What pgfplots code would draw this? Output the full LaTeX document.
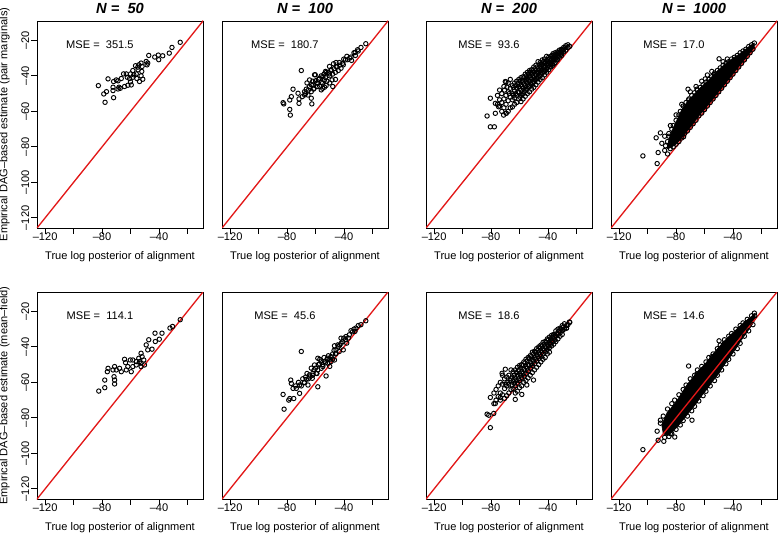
\documentclass[border=0pt]{standalone}
\usepackage{fontspec}
\setmainfont{Liberation Sans}
\usepackage{pgfplots}
\pgfplotsset{compat=1.18}
\definecolor{rred}{RGB}{226,24,24}
\pgfplotsset{
  panel/.style={
    scale only axis, width=124.5pt, height=155.25pt,
    anchor=north west,
    xmin=-125.7,xmax=-9.1,ymin=-125.7,ymax=-9.1,
    axis line style={line width=0.7pt},
    tick align=outside, xtick pos=left, ytick pos=left,
    major tick length=4.3pt, minor tick length=4.3pt,
    every tick/.style={black,line width=0.6pt},
    xtick={-120,-80,-40}, minor xtick={-100,-60,-20},
    xticklabels={\textendash120,\textendash80,\textendash40},
    ytick=\empty,
    xticklabel style={anchor=center, yshift=-2.25pt},
    xlabel={True log posterior of alignment},
    xlabel style={at={(axis description cs:0.5,-0.1401)}, anchor=center},
    title style={at={(axis description cs:0.5,1.0628)}, anchor=center, yshift=-6pt, font=\fontsize{11}{13}\selectfont\bfseries\itshape},
    ylabel style={at={(axis description cs:-0.1958,0.5)}, anchor=center},
    clip=true,
  },
  leftcol/.style={ytick={-120,-100,-80,-60,-40,-20},
    yticklabels={\textendash120,\textendash100,\textendash80,\textendash60,\textendash40,\textendash20},
    yticklabel style={anchor=center, xshift=-4.5pt, rotate=90}},
  pts/.style={only marks, mark=o, mark size=1.65pt, mark options={line width=0.7pt, draw=black}},
  blob/.style={fill=black, draw=black, line width=0.5pt, no marks},
  diag/.style={rred, line width=1pt, no marks},
}
\begin{document}
\begin{tikzpicture}[font=\fontsize{8.3}{10}\selectfont]
\useasboundingbox (0,0) rectangle (583.5pt,-401.25pt);

% ---------------- top row ----------------
\begin{axis}[panel, leftcol, at={(27.75pt,-15.75pt)}, title={N =\ \ 50},
  ylabel={Empirical DAG\textendash based estimate (pair marginals)}]
\addplot[pts] coordinates {
(-25.1,-21.1) (-30.9,-24) (-32.8,-27.2) (-37.4,-28.7) (-40.5,-28.3) (-43,-29.4) (-40.2,-30.9) (-47.2,-28.5)
(-49,-31.9) (-48.4,-33.8) (-52.6,-32.8) (-54.2,-33.8) (-56.5,-34.3) (-51.9,-34.7) (-54.7,-36.6) (-58.4,-37)
(-52.1,-37.5) (-56,-38.9) (-60,-38.9) (-63,-38.9) (-64.9,-38.9) (-52.6,-40) (-58.4,-40.8) (-60.7,-41.5)
(-55.6,-41.5) (-51.4,-41.9) (-66.5,-41.5) (-70,-42.3) (-75.8,-41.7) (-71.9,-43.2) (-68.8,-42.8) (-53.7,-43.2)
(-82.6,-45.5) (-72.3,-46.4) (-64.2,-46) (-61.9,-45.3) (-67.2,-47) (-68.8,-47.4) (-72.3,-48.3) (-76.9,-48.9)
(-78.8,-50.2) (-71.9,-52.3) (-77.9,-54.9) (-68.1,-46.4) (-59.5,-45.1) (-60,-43.4) (-62.3,-40.8) (-57.7,-39.4)
(-54.9,-35.1) (-47.9,-32.8)
};
\addplot[diag] coordinates {(-130,-130) (0,0)};
\node at (axis cs:-81.5,-22.2) {MSE =\ \ 351.5};
\end{axis}

\begin{axis}[panel, at={(166.5pt,-15.75pt)}, title={N =\ \ 100}]
\addplot[pts] coordinates {
(-24.7,-21.9) (-28.1,-24) (-30.5,-25.3) (-32.1,-26.8) (-35.1,-29.4) (-34.7,-31.3) (-37.4,-30.9) (-40.2,-30.6)
(-43.3,-32.5) (-45.6,-32.5) (-47.4,-33.2) (-45.6,-34.7) (-42.1,-35.7) (-40.5,-33.8) (-49.1,-36.6) (-50.2,-38.9)
(-52.6,-38.1) (-54.9,-40.4) (-53.7,-42.3) (-57.2,-41.3) (-56,-43.8) (-58.4,-44.2) (-60,-42.8) (-60.7,-39.4)
(-61.9,-45.1) (-58.8,-46) (-64.2,-46) (-63,-48.9) (-66.5,-47.5) (-67.7,-48.9) (-65.3,-50.8) (-69.3,-51.7)
(-71.6,-53) (-63,-52.6) (-62.6,-55.8) (-71.6,-55.5) (-75.8,-47.5) (-77,-51.7) (-78.1,-53.6) (-82.8,-55.1)
(-82.3,-55.8) (-78.1,-58.9) (-77.7,-62.1) (-70,-37) (-60.2,-39.4) (-67.7,-50.8) (-72.3,-49.8) (-64.2,-42.3)
(-61.4,-47.5) (-56,-47.9) (-52.6,-45.5) (-47.9,-46) (-50.2,-34.7) (-48.4,-42.3) (-53.7,-46.4)
(-58,-42) (-56,-40) (-55,-44) (-54,-39) (-53,-41) (-52,-43) (-51,-38) (-50,-40) (-49,-37) (-48,-39)
(-47,-36) (-46,-38) (-45,-35) (-44,-37) (-43,-34) (-57,-46) (-59,-44) (-61,-47) (-62,-43) (-63,-45)
(-65,-48) (-66,-44) (-67,-50) (-55,-47) (-53,-37.5) (-41,-33) (-39,-31) (-38,-29) (-36,-30) (-33,-27)
(-30,-26) (-32,-28.5) (-50,-44) (-46,-42)
};
\addplot[diag] coordinates {(-130,-130) (0,0)};
\node at (axis cs:-81.5,-22.2) {MSE =\ \ 180.7};
\end{axis}

\begin{axis}[panel, at={(319.5pt,-15.75pt)}, title={N =\ \ 200}]
\addplot[pts] coordinates {
(-26,-22.5) (-26,-24) (-27.5,-23) (-27.5,-25.5) (-29,-24) (-29,-26.5) (-29,-25)
(-30.5,-25) (-30.5,-27) (-30.5,-28.5) (-32,-25.5) (-32,-27.5) (-32,-29.5)
(-33.5,-26.5) (-33.5,-28.5) (-33.5,-30.5) (-33.5,-31) (-35,-27) (-35,-29) (-35,-31) (-35,-32.5)
(-36.5,-27.5) (-36.5,-30) (-36.5,-32) (-36.5,-34) (-38,-29) (-38,-31) (-38,-33) (-38,-35)
(-39.5,-29.5) (-39.5,-32) (-39.5,-34) (-39.5,-36.5) (-41,-29) (-41,-31.5) (-41,-33.5) (-41,-36) (-41,-38)
(-42.5,-30.5) (-42.5,-33) (-42.5,-35) (-42.5,-37.5) (-42.5,-39.5) (-44,-31) (-44,-34) (-44,-36.5) (-44,-38.5) (-44,-41)
(-45.5,-32.5) (-45.5,-35) (-45.5,-37.5) (-45.5,-40) (-45.5,-42) (-47,-32) (-47,-36) (-47,-38.5) (-47,-41) (-47,-43.5)
(-48.5,-34) (-48.5,-37) (-48.5,-39.5) (-48.5,-42) (-48.5,-45) (-50,-35) (-50,-38) (-50,-41) (-50,-43.5) (-50,-46.5)
(-51.5,-36.5) (-51.5,-39) (-51.5,-42) (-51.5,-45) (-51.5,-47.5) (-53,-37) (-53,-40) (-53,-43) (-53,-46) (-53,-49)
(-54.5,-38) (-54.5,-41.5) (-54.5,-44) (-54.5,-47) (-54.5,-50) (-56,-39) (-56,-42.5) (-56,-45.5) (-56,-48) (-56,-51.5)
(-57.5,-40.5) (-57.5,-43.5) (-57.5,-47) (-57.5,-50) (-57.5,-53) (-59,-41) (-59,-45) (-59,-48) (-59,-51) (-59,-54.5)
(-60.5,-42) (-60.5,-46) (-60.5,-49.5) (-60.5,-53) (-62,-43) (-62,-47) (-62,-51) (-62,-55)
(-63.5,-44) (-63.5,-48.5) (-63.5,-52.5) (-63.5,-56) (-65,-45.5) (-65,-50) (-65,-53.5) (-65,-57.5)
(-66.5,-42) (-66.5,-47) (-66.5,-52) (-66.5,-58) (-68,-44) (-68,-49) (-68,-54) (-68,-60)
(-69.5,-43.5) (-69.5,-51) (-69.5,-56) (-69.5,-61) (-71,-46) (-71,-53) (-71,-58)
(-72.5,-50) (-72.5,-55) (-72.5,-60) (-74,-48) (-74,-53.5) (-74,-57) (-75.5,-51) (-75.5,-56)
(-82.8,-62.6) (-80.5,-52.6) (-80.5,-68.7) (-77.7,-68.7) (-70,-43.2) (-68.8,-46.4) (-77,-55.5) (-74.7,-57.4)
(-71.2,-62.1) (-69.3,-61.1) (-77,-61.1) (-24.7,-23.4)
(-28.2,-24.3) (-29.7,-25.8) (-31.2,-26.2) (-31.2,-28) (-32.7,-26.8) (-32.7,-28.9) (-34.2,-27.7) (-34.2,-29.8)
(-35.7,-28.3) (-35.7,-30.6) (-35.7,-33) (-37.2,-28.5) (-37.2,-31) (-37.2,-33.5) (-38.7,-30.3) (-38.7,-32.5)
(-38.7,-34.8) (-40.2,-30.8) (-40.2,-33) (-40.2,-35.2) (-41.7,-32.2) (-41.7,-34.5) (-41.7,-37) (-43.2,-32)
(-43.2,-34.8) (-43.2,-37.5) (-44.7,-33.5) (-44.7,-36) (-44.7,-39) (-46.2,-33.8) (-46.2,-36.8) (-46.2,-39.8)
(-47.7,-35) (-47.7,-38) (-47.7,-41.5) (-49.2,-36) (-49.2,-39) (-49.2,-42.5) (-50.7,-37) (-50.7,-40)
(-50.7,-44) (-52.2,-38) (-52.2,-41) (-52.2,-44.5) (-53.7,-39) (-53.7,-42.5) (-53.7,-46) (-55.2,-40)
(-55.2,-43.5) (-55.2,-47.5) (-56.7,-41) (-56.7,-44.5) (-56.7,-49) (-58.2,-42.5) (-58.2,-46) (-58.2,-50.5)
(-59.7,-43) (-59.7,-47) (-59.7,-52) (-61.2,-44.5) (-61.2,-49) (-62.7,-45.5) (-62.7,-50) (-64.2,-46.5)
(-64.2,-51) (-67.2,-50) (-70.5,-48)
};
\addplot[diag] coordinates {(-130,-130) (0,0)};
\node at (axis cs:-81.5,-22.2) {MSE =\ \ 93.6};
\end{axis}

\begin{axis}[panel, at={(458.25pt,-15.75pt)}, title={N =\ \ 1000}]
\addplot[blob] coordinates {
(-86,-79) (-84,-73) (-80,-66) (-76,-59) (-72,-54.5) (-68,-51) (-64,-47.5) (-60,-44.5) (-56,-41.5) (-52,-38)
(-48,-35) (-44,-32.5) (-40,-30) (-36,-28) (-32,-25.5) (-28,-23) (-25,-21.5)
(-25,-24) (-28,-27) (-32,-31) (-36,-35) (-40,-39) (-44,-43) (-48,-47) (-52,-51) (-56,-55) (-60,-59)
(-64,-62.5) (-68,-67) (-72,-71) (-76,-75) (-80,-78.5) (-84,-80.5) (-86,-81)
} -- cycle;
\addplot[pts] coordinates {
(-86,-77) (-85,-74) (-83,-70) (-82,-68) (-80,-65) (-78,-62) (-77,-60) (-75,-57) (-73,-55) (-71,-53)
(-69,-51) (-67,-49.5) (-65,-48) (-63,-46.5) (-61,-45) (-59,-43.5) (-57,-42) (-55,-40.5) (-53,-38.5) (-51,-37)
(-49,-35.5) (-47,-34) (-45,-33) (-43,-32) (-41,-30.5) (-39,-29.5) (-37,-28.5) (-35,-27) (-33,-26) (-31,-25)
(-29,-23.5) (-27,-22.5) (-25,-21.5)
(-88,-82) (-86,-84) (-84,-81) (-82,-80) (-80,-78.5) (-78,-77) (-76,-75) (-74,-72.5) (-72,-71) (-70,-69)
(-68,-67) (-66,-65) (-64,-62.5) (-62,-61) (-60,-59) (-58,-57) (-56,-55) (-54,-53) (-52,-51) (-50,-49)
(-48,-47) (-46,-45) (-44,-43) (-42,-41) (-40,-39) (-38,-37) (-36,-35) (-34,-33) (-32,-31) (-30,-29)
(-28,-27) (-26,-25)
(-70,-49) (-66,-46) (-62,-43) (-58,-39.5) (-76,-56) (-80,-62) (-84,-68) (-88,-74) (-90,-78) (-47,-32) (-44,-30.5)
(-103.3,-85.1) (-93.3,-89.4) (-92.6,-83.2) (-94,-74.9) (-91,-72.1) (-87.4,-79.4) (-85.1,-72.5) (-71.6,-47.5)
(-65.3,-47.5) (-59.5,-41.7) (-54.9,-37.5) (-49.8,-30.4) (-53,-39.4) (-71.2,-53.6) (-73.5,-58.3) (-74.7,-74.3) (-80.5,-69.6)
};
\addplot[diag] coordinates {(-130,-130) (0,0)};
\node at (axis cs:-81.5,-22.2) {MSE =\ \ 17.0};
\end{axis}

% ---------------- bottom row ----------------
\begin{axis}[panel, leftcol, at={(27.75pt,-219pt)},
  ylabel={Empirical DAG\textendash based estimate (mean\textendash field)}]
\addplot[pts] coordinates {
(-25.1,-24.7) (-30.5,-28.5) (-32.3,-29.4) (-37.9,-32.3) (-42.8,-32.3) (-39.8,-35.7) (-42.6,-37) (-47.2,-36)
(-49,-38.9) (-44.9,-41.3) (-47.9,-41.7) (-52.6,-43.6) (-51.9,-45.5) (-54.2,-46.4) (-50.7,-47.4) (-53.7,-48.3)
(-52.6,-49.2) (-56,-50.2) (-52.6,-51.1) (-58.4,-51.1) (-60.2,-47.4) (-64.2,-47) (-63.5,-48.9) (-61.9,-51.1)
(-63,-53) (-67.7,-52.1) (-70,-53) (-66.5,-54) (-59.5,-54) (-72.3,-53) (-71.6,-56.8) (-71.2,-51.1)
(-75.8,-52.1) (-76.3,-54) (-71.2,-58.7) (-71.2,-60.9) (-78.1,-58.7) (-78.1,-63) (-82.3,-64.9) (-50.2,-50.2)
(-58.4,-47.4) (-56,-48.3)
};
\addplot[diag] coordinates {(-130,-130) (0,0)};
\node at (axis cs:-81.5,-22.2) {MSE =\ \ 114.1};
\end{axis}

\begin{axis}[panel, at={(166.5pt,-219pt)}]
\addplot[pts] coordinates {
(-24.7,-25.3) (-28.1,-27.5) (-31.6,-29.4) (-32.3,-31.3) (-35.1,-30.9) (-36.3,-33.2) (-38.6,-34.2) (-40.2,-35.1)
(-42.1,-35.1) (-44.4,-38.9) (-46.7,-39.4) (-40.5,-41.7) (-43.3,-42.6) (-45.6,-41.7) (-49.1,-45.5) (-51.4,-46.4)
(-49.1,-48.3) (-51.4,-49.2) (-53.7,-48.3) (-54.9,-51.1) (-56,-52.1) (-57.2,-49.6) (-58.4,-53) (-58.4,-46.4)
(-60.7,-50.2) (-61.9,-54.9) (-59.5,-54.9) (-64.2,-55.8) (-62.3,-57.7) (-66.5,-58.3) (-67.7,-60.2) (-65.3,-61.5)
(-70,-42.6) (-71.2,-61.5) (-71.2,-66.2) (-73.5,-63.4) (-75.8,-63.4) (-77.4,-58.7) (-77,-60.6) (-78.1,-69.1)
(-78.8,-70) (-75.3,-69.1) (-82.8,-66.8) (-82.1,-75.1) (-58.4,-62.5) (-52.6,-56.4) (-46.7,-47.4) (-38.1,-37.9)
(-45.6,-43.6)
(-60,-52) (-58,-50) (-57,-47) (-56,-48) (-55,-50) (-54,-46) (-53,-49) (-52,-47) (-51,-45) (-50,-47)
(-48,-44) (-47,-42) (-46,-44) (-44,-40) (-43,-39) (-42,-38) (-41,-37) (-39,-36) (-37,-35) (-34,-31.5)
(-33,-30) (-30,-28) (-62,-56) (-63,-52) (-64,-57) (-65,-58) (-66,-55) (-67,-57) (-68,-60) (-69,-58)
(-70,-62) (-72,-60) (-74,-62) (-61,-53) (-59,-55) (-48,-47) (-50,-51)
};
\addplot[diag] coordinates {(-130,-130) (0,0)};
\node at (axis cs:-81.5,-22.2) {MSE =\ \ 45.6};
\end{axis}

\begin{axis}[panel, at={(319.5pt,-219pt)}]
\addplot[pts] coordinates {
(-25,-26) (-27,-28) (-27,-29.5) (-28.5,-27) (-28.5,-30) (-30,-28) (-30,-31) (-30,-33)
(-31.5,-29.5) (-31.5,-32) (-31.5,-34) (-33,-30) (-33,-33) (-33,-35.5) (-34.5,-31) (-34.5,-34) (-34.5,-37)
(-36,-33) (-36,-35.5) (-36,-38.5) (-37.5,-33.5) (-37.5,-36.5) (-37.5,-39.5)
(-39,-34.5) (-39,-37.5) (-39,-40.5) (-39,-43) (-40.5,-35.5) (-40.5,-38.5) (-40.5,-41.5) (-40.5,-44)
(-42,-37) (-42,-40) (-42,-43) (-42,-46) (-43.5,-37.5) (-43.5,-41) (-43.5,-44) (-43.5,-47)
(-45,-39) (-45,-42) (-45,-45.5) (-45,-48.5) (-46.5,-40) (-46.5,-43.5) (-46.5,-46.5) (-46.5,-50)
(-48,-41) (-48,-44.5) (-48,-48) (-48,-51.5) (-49.5,-42.5) (-49.5,-46) (-49.5,-49.5) (-49.5,-53)
(-51,-43) (-51,-47) (-51,-50.5) (-51,-54.5) (-52.5,-45) (-52.5,-48.5) (-52.5,-52) (-52.5,-56)
(-54,-46) (-54,-50) (-54,-53.5) (-54,-57.5) (-55.5,-47) (-55.5,-51) (-55.5,-55) (-55.5,-59)
(-57,-48.5) (-57,-52.5) (-57,-56.5) (-57,-60) (-58.5,-50) (-58.5,-54) (-58.5,-57.5) (-58.5,-62)
(-60,-50.5) (-60,-55) (-60,-59) (-60,-63) (-61.5,-51.5) (-61.5,-56) (-61.5,-60.5) (-61.5,-65)
(-63,-53) (-63,-57.5) (-63,-62) (-63,-66) (-64.5,-54) (-64.5,-59) (-64.5,-63.5)
(-66,-53) (-66,-58) (-66,-64) (-67.5,-56) (-67.5,-61) (-67.5,-66) (-69,-57) (-69,-62) (-69,-67.5)
(-70.5,-58) (-70.5,-63.5) (-70.5,-69) (-72,-56) (-72,-61) (-72,-67) (-73.5,-60) (-73.5,-66) (-73.5,-70)
(-75,-62) (-75,-68) (-76.5,-64) (-76.5,-70) (-78,-66) (-78,-72)
(-24.7,-26.2) (-27,-29.4) (-29.8,-30.4) (-82.8,-77.9) (-80.5,-85.5) (-81.6,-78.5) (-78.1,-77.5) (-77,-71.9)
(-80.5,-68.5) (-73.5,-68.5) (-70,-52.6) (-72.3,-54.9) (-63,-69.6) (-58.4,-66.8) (-54.9,-61.5) (-50.2,-58.7)
(-26,-27.5) (-29.2,-28.8) (-30.7,-30) (-32.2,-31) (-33.7,-32.5) (-35.2,-33.5) (-35.2,-36) (-36.7,-34.5)
(-36.7,-37) (-38.2,-35.5) (-38.2,-38.5) (-39.7,-36) (-39.7,-39.5) (-41.2,-37.5) (-41.2,-40.5) (-42.7,-38.5)
(-42.7,-42) (-44.2,-39.5) (-44.2,-43) (-45.7,-40.5) (-45.7,-44.5) (-47.2,-42) (-47.2,-45.5) (-48.7,-43)
(-48.7,-47) (-50.2,-44) (-50.2,-48) (-51.7,-45.5) (-51.7,-49.5) (-53.2,-46.5) (-53.2,-50.5) (-54.7,-48)
(-54.7,-52) (-56.2,-49) (-56.2,-53.5) (-57.7,-50.5) (-57.7,-55) (-59.2,-52) (-59.2,-56) (-60.7,-53)
(-60.7,-58) (-62.2,-54.5) (-62.2,-59) (-63.7,-56) (-63.7,-60.5) (-65.2,-57) (-65.2,-61.5) (-66.7,-59)
(-68.2,-60) (-69.7,-61)
};
\addplot[diag] coordinates {(-130,-130) (0,0)};
\node at (axis cs:-81.5,-22.2) {MSE =\ \ 18.6};
\end{axis}

\begin{axis}[panel, at={(458.25pt,-219pt)}]
\addplot[blob] coordinates {
(-90,-84) (-88,-80) (-85,-76) (-82,-73) (-80,-71) (-76,-66) (-72,-61) (-68,-57) (-64,-53) (-60,-50)
(-56,-46) (-52,-42) (-48,-38.5) (-44,-35) (-40,-32) (-36,-29) (-32,-26) (-28,-23.5) (-25,-21.5)
(-24,-24) (-27,-28) (-30,-31.5) (-34,-36) (-38,-41) (-42,-45.5) (-46,-50) (-50,-55) (-54,-59) (-58,-63.5)
(-62,-67.5) (-66,-72) (-70,-76) (-74,-80) (-78,-84) (-82,-87.5) (-86,-90) (-89,-89)
} -- cycle;
\addplot[pts] coordinates {
(-91,-83) (-89,-79) (-86,-75) (-83,-72) (-81,-70) (-78,-67) (-75,-64) (-73,-61.5) (-70,-58) (-67,-56)
(-65,-53) (-62,-51) (-59,-48.5) (-57,-46) (-54,-44) (-51,-41) (-49,-39) (-46,-36) (-43,-34) (-41,-32.5)
(-38,-30) (-35,-28) (-33,-26.5) (-30,-24.5) (-27,-22.5) (-25,-21)
(-88,-91) (-85,-90.5) (-83,-89) (-80,-86.5) (-77,-84) (-75,-81.5) (-72,-79) (-69,-76) (-67,-73.5) (-64,-70.5)
(-61,-67.5) (-59,-65) (-56,-62) (-53,-59) (-51,-56) (-48,-53) (-45,-49.5) (-43,-47) (-40,-44) (-37,-41)
(-35,-38) (-32,-34) (-29,-31) (-26,-27.5)
(-103.3,-97.9) (-93.3,-87.5) (-92.6,-92.6) (-88.6,-93.2) (-91,-81.3) (-85.1,-77.9) (-71.2,-50.8) (-65.3,-55.3)
(-54.9,-45.5) (-49.8,-36.6) (-46,-37.9) (-40.9,-34.7) (-24.7,-22.5) (-68.8,-81.3) (-80.9,-90.8) (-84,-88.9)
};
\addplot[diag] coordinates {(-130,-130) (0,0)};
\node at (axis cs:-81.5,-22.2) {MSE =\ \ 14.6};
\end{axis}
\end{tikzpicture}
\end{document}
